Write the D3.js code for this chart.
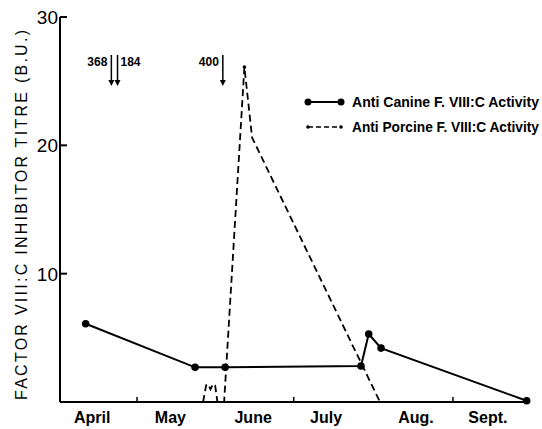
<!DOCTYPE html>
<html>
<head>
<meta charset="utf-8">
<script src="https://cdn.jsdelivr.net/npm/d3@7"></script>
<style>
  body { margin: 0; background: #fff; }
  text { font-family: "Liberation Sans", Arial, sans-serif; fill: #000; }
</style>
</head>
<body>
<div id="chart"></div>
<script>
// days counted from April 1
const canineDays = [10, 52.6, 64.3, 117.2, 120.2, 125, 181.7];
const canineTitre = [6.1, 2.7, 2.7, 2.8, 5.3, 4.2, 0.1];

const porcineDays = [55.7, 56.9, 57.6, 58.6, 59.6, 60.4, 61.3, 63.9, 71.8, 74.8, 124.6];
const porcineTitre = [0, 1.3, 1.4, 1.0, 1.4, 1.3, 0, 0, 26.1, 20.6, 0];

const monthLabels = ["April", "May", "June", "July", "Aug.", "Sept."];
const monthLabelDays = [12.5, 43, 75.2, 103.6, 138.6, 166.6];
const monthTickDays = [30, 91, 153];

const yTicks = [10, 20, 30];

const doseDays = [20, 22.4, 63.4];
const doseLabels = ["368", "184", "400"];

const legendLabels = ["Anti Canine F. VIII:C Activity", "Anti Porcine F. VIII:C Activity"];

const width = 542, height = 429;
const svg = d3.select("#chart").append("svg")
  .attr("width", width).attr("height", height);

const x = d3.scaleLinear().domain([0, 183]).range([60, 530]);
const y = d3.scaleLinear().domain([0, 30]).range([402, 17]);

// axes
svg.append("line")
  .attr("x1", x(0)).attr("x2", x(0))
  .attr("y1", y(30)).attr("y2", y(0))
  .attr("stroke", "#000").attr("stroke-width", 2);
svg.append("line")
  .attr("x1", x(0)).attr("x2", x(182))
  .attr("y1", y(0)).attr("y2", y(0))
  .attr("stroke", "#000").attr("stroke-width", 2);

// y ticks
svg.selectAll(".ytick")
  .data(yTicks)
  .enter()
  .append("line")
  .attr("x1", x(0)).attr("x2", x(0) + 7)
  .attr("y1", (d) => y(d)).attr("y2", (d) => y(d))
  .attr("stroke", "#000").attr("stroke-width", 2);
svg.selectAll(".ylab")
  .data(yTicks)
  .enter()
  .append("text")
  .attr("x", x(0) - 2)
  .attr("y", (d) => y(d) + 7)
  .attr("text-anchor", "end")
  .style("font-size", "19px")
  .text((d) => d);

// x ticks
svg.selectAll(".xtick")
  .data(monthTickDays)
  .enter()
  .append("line")
  .attr("x1", (d) => x(d)).attr("x2", (d) => x(d))
  .attr("y1", y(0)).attr("y2", y(0) - 5)
  .attr("stroke", "#000").attr("stroke-width", 1.5);
svg.selectAll(".xlab")
  .data(monthLabels)
  .enter()
  .append("text")
  .attr("x", (d, i) => x(monthLabelDays[i]))
  .attr("y", 423)
  .attr("text-anchor", "middle")
  .style("font-size", "16px")
  .style("font-weight", "bold")
  .text((d) => d);

// y axis title
svg.append("text")
  .attr("transform", "translate(27,215) rotate(-90)")
  .attr("text-anchor", "middle")
  .attr("textLength", 370)
  .attr("lengthAdjust", "spacing")
  .style("font-size", "16px")
  .text("FACTOR VIII:C INHIBITOR TITRE (B.U.)");

// lines
const canine = canineDays.map((d, i) => [d, canineTitre[i]]);
const porcine = porcineDays.map((d, i) => [d, porcineTitre[i]]);
const line = d3.line().x((d) => x(d[0])).y((d) => y(d[1]));

svg.append("path")
  .datum(porcine)
  .attr("d", line)
  .attr("fill", "none")
  .attr("stroke", "#000")
  .attr("stroke-width", 1.8)
  .attr("stroke-dasharray", "7,4");
svg.append("circle")
  .attr("cx", x(porcineDays[8])).attr("cy", y(porcineTitre[8]))
  .attr("r", 1.8);

svg.append("path")
  .datum(canine)
  .attr("d", line)
  .attr("fill", "none")
  .attr("stroke", "#000")
  .attr("stroke-width", 2);
svg.selectAll(".cdot")
  .data(canine)
  .enter()
  .append("circle")
  .attr("cx", (d) => x(d[0]))
  .attr("cy", (d) => y(d[1]))
  .attr("r", 3.8);

// dose arrows
const arrowTop = 55, arrowBottom = 86;
doseDays.forEach((d, i) => {
  const ax = x(d);
  svg.append("line")
    .attr("x1", ax).attr("x2", ax)
    .attr("y1", arrowTop).attr("y2", arrowBottom - 4)
    .attr("stroke", "#000").attr("stroke-width", 1.5);
  svg.append("path")
    .attr("d", `M${ax - 3},${arrowBottom - 6} L${ax + 3},${arrowBottom - 6} L${ax},${arrowBottom} Z`);
  svg.append("text")
    .attr("x", i === 1 ? ax + 3 : ax - 4)
    .attr("y", 66)
    .attr("text-anchor", i === 1 ? "start" : "end")
    .style("font-size", "12px")
    .style("font-weight", "bold")
    .text(doseLabels[i]);
});

// legend
const legY = [102, 127];
svg.append("line")
  .attr("x1", 308).attr("x2", 341)
  .attr("y1", legY[0]).attr("y2", legY[0])
  .attr("stroke", "#000").attr("stroke-width", 2);
[308, 341].forEach((lx) => {
  svg.append("circle").attr("cx", lx).attr("cy", legY[0]).attr("r", 3.5);
});
svg.append("line")
  .attr("x1", 308).attr("x2", 341)
  .attr("y1", legY[1]).attr("y2", legY[1])
  .attr("stroke", "#000").attr("stroke-width", 1.5)
  .attr("stroke-dasharray", "5,3");
[308, 341].forEach((lx) => {
  svg.append("circle").attr("cx", lx).attr("cy", legY[1]).attr("r", 1.8);
});
svg.selectAll(".leg")
  .data(legendLabels)
  .enter()
  .append("text")
  .attr("x", 352)
  .attr("y", (d, i) => legY[i] + 5)
  .attr("textLength", 187)
  .attr("lengthAdjust", "spacingAndGlyphs")
  .style("font-size", "14px")
  .style("font-weight", "bold")
  .text((d) => d);
</script>
</body>
</html>
